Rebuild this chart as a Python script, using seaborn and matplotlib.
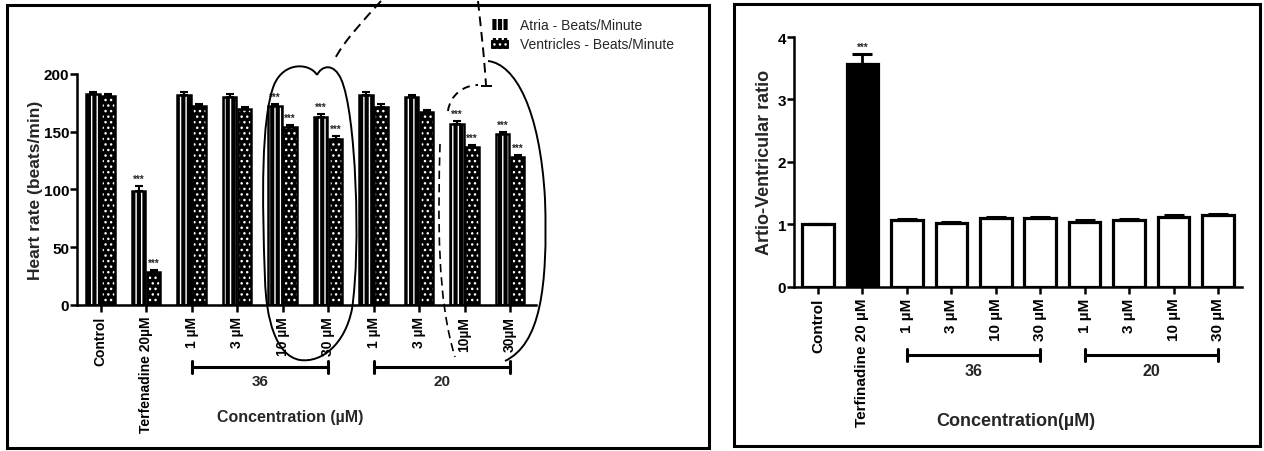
import numpy as np
import pandas as pd
import matplotlib
matplotlib.use("Agg")
import matplotlib.pyplot as plt
from matplotlib.patches import Rectangle, PathPatch
from matplotlib.path import Path
import matplotlib.transforms as mtransforms
import seaborn as sns

# ---------------- data ----------------
categories = ["Control", "Terfenadine 20", "36-1", "36-3", "36-10", "36-30",
              "20-1", "20-3", "20-10", "20-30"]
left_ticklabels = ["Control", "Terfenadine 20\u00b5M", "1 \u00b5M", "3 \u00b5M", "10 \u00b5M", "30 \u00b5M",
                   "1 \u00b5M", "3 \u00b5M", "10\u00b5M", "30\u00b5M"]
right_ticklabels = ["Control", "Terfinadine 20 \u00b5M", "1 \u00b5M", "3 \u00b5M", "10 \u00b5M", "30 \u00b5M",
                    "1 \u00b5M", "3 \u00b5M", "10 \u00b5M", "30 \u00b5M"]
series = ["Atria - Beats/Minute", "Ventricles - Beats/Minute"]
atria = [183, 99, 182, 180, 172, 163, 182, 180, 157, 148]
atria_err = [1.5, 4, 2.5, 2.5, 2, 2, 2.5, 2, 2, 2]
ventricles = [181, 28, 172, 170, 154, 144, 171, 167, 137, 128]
ventricles_err = [1.5, 2, 2, 1.5, 2, 2, 3, 1.5, 1.5, 1.5]
left_sig = [False, True, False, False, True, True, False, False, True, True]

ratio = [1.00, 3.57, 1.06, 1.02, 1.10, 1.10, 1.04, 1.06, 1.12, 1.14]
ratio_err = [0.0, 0.15, 0.02, 0.02, 0.02, 0.02, 0.02, 0.02, 0.02, 0.02]
right_sig = [False, True, False, False, False, False, False, False, False, False]

groups = ["36", "20"]
group_span = [(2, 5), (6, 9)]

# ---------------- style ----------------
sns.set_style("ticks")
plt.rcParams["font.family"] = ["Liberation Sans", "DejaVu Sans"]
plt.rcParams["hatch.linewidth"] = 1.0

fig = plt.figure(figsize=(12.64, 4.52), dpi=100)
W, H = 1264, 452

def fig_rect(x0, y0, x1, y1):
    return [x0 / W, (H - y1) / H, (x1 - x0) / W, (y1 - y0) / H]

axL = fig.add_axes(fig_rect(77, 75, 536, 305.7))
axR = fig.add_axes(fig_rect(794, 38, 1242, 287.5))

# ---------------- left panel ----------------
df = pd.DataFrame({
    "cat": categories * 2,
    "series": [series[0]] * len(categories) + [series[1]] * len(categories),
    "val": atria + ventricles,
})
sns.barplot(data=df, x="cat", y="val", hue="series", order=categories, hue_order=series,
            palette=["black", "black"], errorbar=None, width=0.66, gap=0.1,
            linewidth=0, ax=axL)
hatches = ["|||", "..."]
for cont, hch, vals, errs in zip(axL.containers, hatches, [atria, ventricles], [atria_err, ventricles_err]):
    xs = []
    for bar in cont:
        bar.set_hatch(hch)
        bar.set_edgecolor("white")
        bar.set_linewidth(0)
        axL.add_patch(Rectangle(bar.get_xy(), bar.get_width(), bar.get_height(), fill=False,
                                edgecolor="black", linewidth=1.8, zorder=bar.get_zorder() + 0.1))
        xs.append(bar.get_x() + bar.get_width() / 2)
    axL.errorbar(xs, vals, yerr=[np.zeros(len(errs)), errs], fmt="none", ecolor="black",
                 elinewidth=1.5, capsize=3, capthick=1.5)
    for x, v, e, s in zip(xs, vals, errs, left_sig):
        if s:
            axL.text(x, v + e + 2, "***", ha="center", va="bottom", fontsize=7, fontweight="bold")
leg = axL.get_legend()
if leg is not None:
    leg.remove()
handles = [Rectangle((0, 0), 1, 1, facecolor="black", edgecolor="white", hatch=h, linewidth=0) for h in hatches]
fig.legend(handles, series, loc="upper left", bbox_to_anchor=(478 / W, 1 - 7 / H), frameon=False,
           fontsize=10, handlelength=1.3, handleheight=0.9, handletextpad=0.8, labelspacing=0.35)

axL.set_ylim(0, 200)
axL.set_xlim(-0.52, 9.57)
axL.set_yticks([0, 50, 100, 150, 200])
axL.set_xticks(range(len(categories)))
axL.set_xticklabels(left_ticklabels, rotation=90, fontsize=10, fontweight="bold")
for lab in axL.get_yticklabels():
    lab.set_fontweight("bold")
    lab.set_fontsize(11)
axL.set_ylabel("Heart rate (beats/min)", fontsize=12.5, fontweight="bold")
axL.yaxis.set_label_coords(-0.073, 0.5)
axL.set_xlabel("Concentration (\u00b5M)", fontsize=11.5, fontweight="bold")
axL.xaxis.set_label_coords(0.464, -0.452)
sns.despine(ax=axL)

# ---------------- right panel ----------------
dfr = pd.DataFrame({"cat": categories, "ratio": ratio})
colors = ["black" if s else "white" for s in right_sig]
sns.barplot(data=dfr, x="cat", y="ratio", hue="cat", order=categories, hue_order=categories,
            palette=colors, legend=False, errorbar=None, width=0.71, edgecolor="black",
            linewidth=2.3, ax=axR)
xsr = [b.get_x() + b.get_width() / 2 for b in axR.patches]
axR.errorbar(xsr, ratio, yerr=[np.zeros(len(ratio_err)), ratio_err], fmt="none", ecolor="black",
             elinewidth=2, capsize=7, capthick=2.2)
for x, v, e, s in zip(xsr, ratio, ratio_err, right_sig):
    if s:
        axR.text(x, v + e + 0.05, "***", ha="center", va="bottom", fontsize=7, fontweight="bold")
axR.set_ylim(0, 4)
axR.set_xlim(-0.54, 9.54)
axR.set_yticks([0, 1, 2, 3, 4])
axR.set_xticks(range(len(categories)))
axR.set_xticklabels(right_ticklabels, rotation=90, fontsize=11, fontweight="bold")
for lab in axR.get_yticklabels():
    lab.set_fontweight("bold")
    lab.set_fontsize(11)
axR.set_ylabel("Artio-Ventricular ratio", fontsize=13, fontweight="bold")
axR.yaxis.set_label_coords(-0.046, 0.5)
axR.set_xlabel("Concentration(\u00b5M)", fontsize=13, fontweight="bold")
axR.xaxis.set_label_coords(0.496, -0.503)
sns.despine(ax=axR)

for ax in (axL, axR):
    for sp in ("left", "bottom"):
        ax.spines[sp].set_linewidth(1.8)
        ax.spines[sp].set_color("black")
    ax.tick_params(axis="x", direction="out", length=5, width=1.8, colors="black", pad=3)
    ax.tick_params(axis="y", direction="out", length=5, width=1.8, colors="black", pad=0.5)

# group brackets
for ax, yb, yt, fs in ((axL, -0.27, -0.30, 11), (axR, -0.275, -0.305, 11.5)):
    tr = mtransforms.blended_transform_factory(ax.transData, ax.transAxes)
    for name, (a, b) in zip(groups, group_span):
        ax.plot([a, b], [yb, yb], color="black", lw=2.2, transform=tr, clip_on=False)
        for xe in (a, b):
            ax.plot([xe, xe], [yb - 0.025, yb + 0.025], color="black", lw=2.2, transform=tr, clip_on=False)
        ax.text((a + b) / 2, yt, name, ha="center", va="top", fontsize=fs, fontweight="bold",
                transform=tr)

# panel frames
for (x0, y0, x1, y1) in ((7, 6, 709, 449), (734, 5, 1260, 447)):
    fig.patches.append(Rectangle((x0 / W, (H - y1) / H), (x1 - x0) / W, (y1 - y0) / H,
                                 transform=fig.transFigure, fill=False, edgecolor="black",
                                 linewidth=2.2))

# hand-drawn annotations (pixel coordinates of the figure, y downward)
pix = mtransforms.Affine2D().scale(1 / W, -1 / H).translate(0, 1) + fig.transFigure
M, C, L = Path.MOVETO, Path.CURVE4, Path.LINETO
def draw(verts, codes, ls="-", lw=1.4):
    fig.patches.append(PathPatch(Path(verts, codes), transform=pix, fill=False,
                                 edgecolor="black", linewidth=lw, linestyle=ls))

draw([(317, 76), (322, 66), (334, 64), (341, 80),
      (356, 112), (361, 250), (352, 310),
      (345, 345), (322, 364), (300, 361),
      (276, 357), (266, 320), (265, 280),
      (262, 200), (261, 120), (274, 86),
      (284, 62), (310, 64), (317, 76)],
     [M] + [C] * 18)
draw([(381, 2), (365, 20), (345, 40), (333, 63)], [M, C, C, C], ls=(0, (5, 3)))
draw([(488, 62), (515, 65), (540, 110), (545, 200),
      (548, 290), (540, 345), (505, 362)], [M, C, C, C, C, C, C])
draw([(478, 2), (481, 30), (484, 55), (486, 86)], [M, C, C, C], ls=(0, (5, 3)))
draw([(481, 87), (492, 87)], [M, L])
draw([(448, 112), (450, 96), (464, 86), (478, 86)], [M, C, C, C], ls=(0, (4, 3)))
draw([(440, 145), (438, 220), (437, 300), (455, 358)], [M, C, C, C], ls=(0, (5, 3)), lw=1.2)

fig.savefig("out.png", dpi=100)
